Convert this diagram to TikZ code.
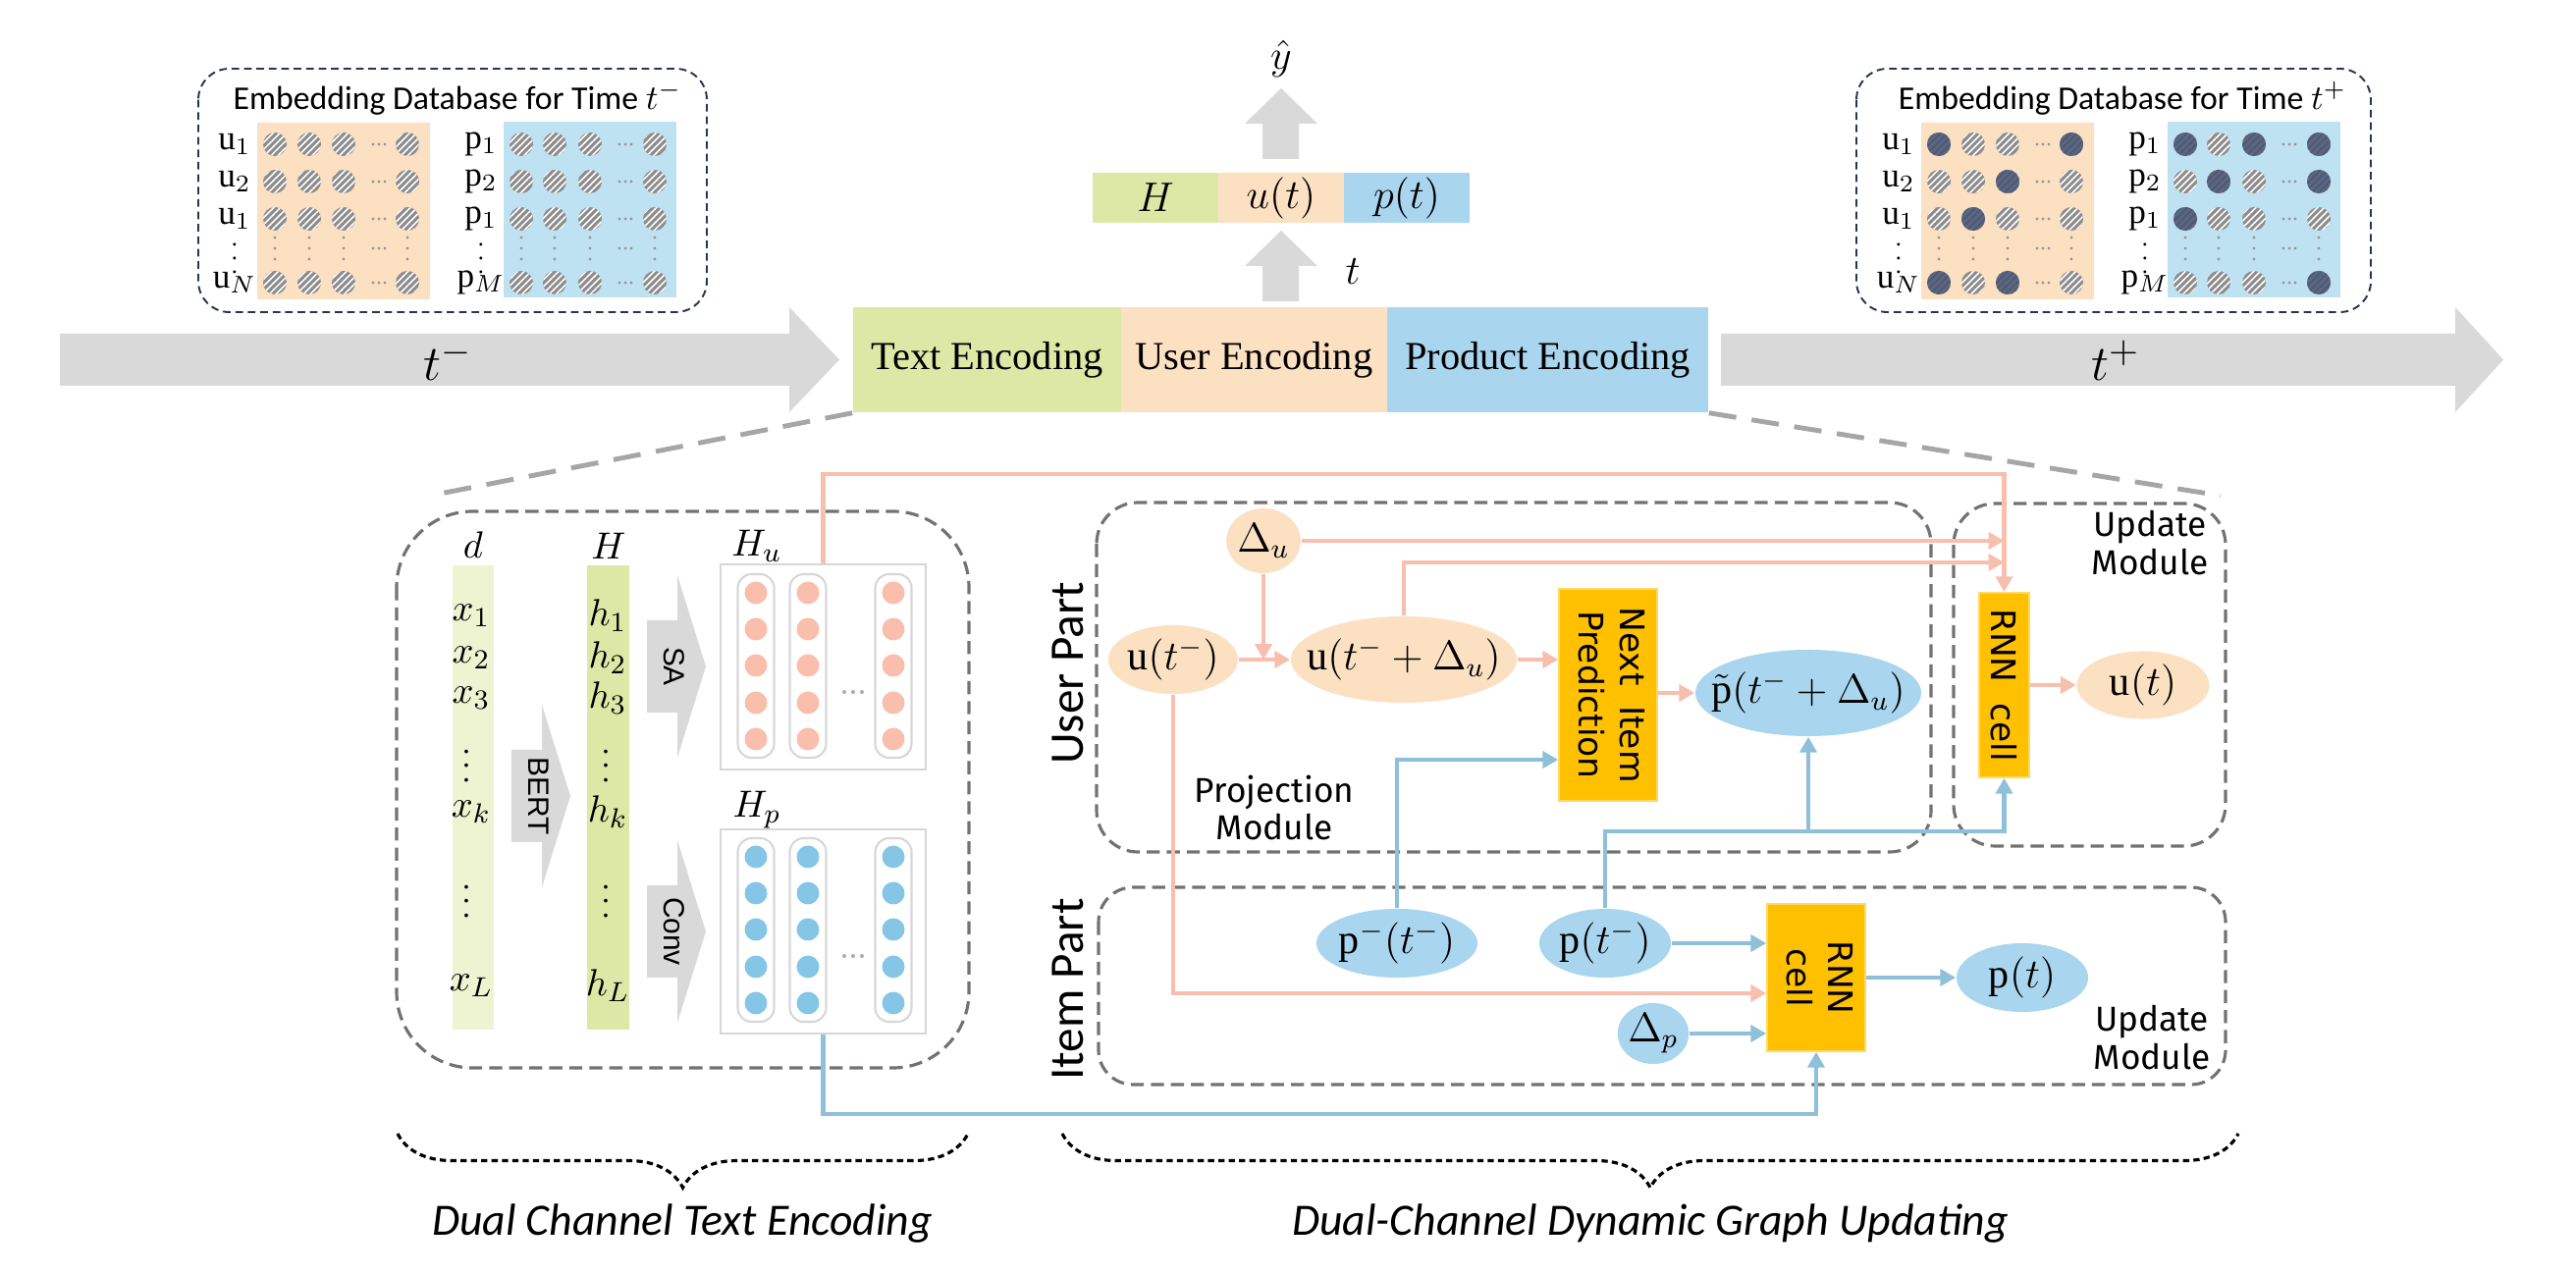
\documentclass[tikz,border=0pt]{standalone}
\usepackage{fontspec}
\usepackage{graphicx}
\setmainfont{Liberation Serif}
\setsansfont{Liberation Sans}
\newfontfamily\calibfont{Carlito}
\newfontfamily\cellfont{DejaVu Sans}
\newfontfamily\notefont{Fira Sans}
\usetikzlibrary{arrows.meta,patterns.meta,decorations.pathreplacing,shapes.geometric}

\definecolor{arrgray}{RGB}{217,217,217}
\definecolor{encgreen}{RGB}{221,232,166}
\definecolor{xgreen}{RGB}{238,243,210}
\definecolor{encorange}{RGB}{252,224,194}
\definecolor{encblue}{RGB}{169,214,238}
\definecolor{dbblue}{RGB}{191,226,243}
\definecolor{cellyellow}{RGB}{255,192,0}
\definecolor{linkpink}{RGB}{248,190,174}
\definecolor{linkblue}{RGB}{143,192,218}
\definecolor{dotpink}{RGB}{249,190,172}
\definecolor{dotblue}{RGB}{133,198,230}
\definecolor{boxgray}{RGB}{118,113,113}
\definecolor{zoomgray}{RGB}{166,166,166}
\definecolor{dbframecol}{RGB}{40,52,80}
\definecolor{hatchgray}{RGB}{140,140,140}
\definecolor{hatchdark}{RGB}{96,102,114}
\definecolor{hatchblue}{RGB}{66,88,140}
\definecolor{framegray}{RGB}{215,215,215}
\definecolor{dotgray}{RGB}{150,150,150}

\tikzset{
  encbox/.style={rectangle, inner sep=0pt, font=\fontsize{11.5}{13}\selectfont},
  barbox/.style={rectangle, inner sep=0pt, minimum width=1.28cm, minimum height=0.51cm, font=\fontsize{12}{14}\selectfont},
  ellu/.style={ellipse, fill=encorange, inner sep=0pt, font=\fontsize{12}{14}\selectfont},
  ellp/.style={ellipse, fill=encblue, inner sep=0pt, font=\fontsize{12}{14}\selectfont},
  cellbox/.style={rectangle, fill=cellyellow, draw=cellyellow!60!white, inner sep=0pt, font=\cellfont\fontsize{9.8}{12}\selectfont},
  dashbox/.style={draw=boxgray, line width=0.9pt, dash pattern=on 3.8pt off 2pt},
  dbframe/.style={draw=dbframecol, line width=0.55pt, dash pattern=on 2.2pt off 1.4pt, rounded corners=9pt},
  zoomline/.style={draw=zoomgray, line width=1.4pt, dash pattern=on 8pt off 4.5pt},
  pinkline/.style={draw=linkpink, line width=1.4pt},
  blueline/.style={draw=linkblue, line width=1.4pt},
  pinkarrow/.style={pinkline, -{Triangle[length=4.5pt,width=4.8pt]}},
  bluearrow/.style={blueline, -{Triangle[length=4.5pt,width=4.8pt]}},
  hatchl/.style={fill=hatchgray, postaction={pattern={Lines[angle=45,distance=1.4pt,line width=0.45pt]}, pattern color=white}},
  hatchd/.style={fill=hatchdark, postaction={pattern={Lines[angle=45,distance=1.4pt,line width=0.45pt]}, pattern color=hatchblue}},
  dblab/.style={inner sep=0pt, font=\fontsize{10}{12}\selectfont},
  collab/.style={inner sep=0pt, font=\fontsize{11}{13}\selectfont},
  modlab/.style={inner sep=0pt, align=center, font=\notefont\fontsize{10}{11}\selectfont},
  partlab/.style={inner sep=0pt, rotate=90, font=\calibfont\fontsize{14}{16}\selectfont},
  bracestyle/.style={draw=black, line width=0.9pt, dash pattern=on 1.8pt off 1.2pt, decorate, decoration={brace, mirror, amplitude=0.55cm}},
  bracelab/.style={inner sep=0pt, font=\calibfont\itshape\fontsize{13}{15}\selectfont}
}

\newcommand{\dbgrid}[1]{%
  \fill[encorange] (#1+60,125) rectangle (#1+236,305);
  \fill[dbblue] (#1+311,124) rectangle (#1+487,303);
  \foreach \cx in {78,113,148,213,329,363,399,465}
    \foreach \cy in {147,185,223,288}
      \path[hatchl] (#1+\cx,\cy) circle[radius=12];
  \foreach \cx in {78,113,148,213,329,363,399,465}
    \foreach \cy in {242,253,264}
      \fill[dotgray] (#1+\cx,\cy) circle[radius=1.7];
  \foreach \cx in {184,435}
    \foreach \cy in {147,185,223,253,288}
      \foreach \dx in {-6,0,6}
        \fill[dotgray] (#1+\cx+\dx,\cy) circle[radius=1.7];
  \foreach \cy/\sub in {147/1,185/2,223/1,288/N}
    \node[dblab] at (#1+37,\cy) {$\mathrm{u}_{\sub}$};
  \foreach \cy/\sub in {147/1,185/2,223/1,288/M}
    \node[dblab] at (#1+288,\cy) {$\mathrm{p}_{\sub}$};
  \node[dblab, font=\fontsize{7}{8}\selectfont] at (#1+37,253) {$\vdots$};
  \node[dblab, font=\fontsize{7}{8}\selectfont] at (#1+288,253) {$\vdots$};
}

\newcommand{\rarr}[3]{%
  \fill[arrgray] (#1,#2-47) -- (#1+31,#2-47) -- (#1+31,#2-93) -- (#1+60,#2)
    -- (#1+31,#2+93) -- (#1+31,#2+47) -- (#1,#2+47) -- cycle;
  \node[inner sep=0pt, font=\sffamily\fontsize{8.5}{10}\selectfont] at (#1+28,#2) {\rotatebox{-90}{#3}};
}

\begin{document}
\begin{tikzpicture}[x=0.01cm,y=-0.01cm]
\useasboundingbox (0,0) rectangle (2624,1298);

\fill[arrgray] (61,340) -- (804,340) -- (804,313) -- (855,366.5) -- (804,420) -- (804,393) -- (61,393) -- cycle;
\fill[arrgray] (1753,340) -- (2501,340) -- (2501,313) -- (2550,366.5) -- (2501,420) -- (2501,393) -- (1753,393) -- cycle;
\node[font=\fontsize{15}{17}\selectfont] (tminus) at (456,367) {$t^-$};
\node[font=\fontsize{15}{17}\selectfont] (tplus) at (2155,367) {$t^+$};

\node[encbox, fill=encgreen, minimum width=2.73cm, minimum height=1.07cm] (tenc) at (1005.5,366.5) {Text Encoding};
\node[encbox, fill=encorange, minimum width=2.71cm, minimum height=1.07cm] (uenc) at (1277.5,366.5) {User Encoding};
\node[encbox, fill=encblue, minimum width=3.27cm, minimum height=1.07cm] (penc) at (1576.5,366.5) {Product Encoding};

\foreach \yy in {162,307}
  \fill[arrgray] (1286,\yy) -- ++(0,-36) -- ++(-18,0) -- ++(37,-36) -- ++(37,36) -- ++(-19,0) -- ++(0,36) -- cycle;
\node[barbox, fill=encgreen] (hbar) at (1177,201.5) {$H$};
\node[barbox, fill=encorange] (ubar) at (1305,201.5) {$u(t)$};
\node[barbox, fill=encblue] (pbar) at (1433,201.5) {$p(t)$};
\node[font=\fontsize{12}{14}\selectfont] (yhat) at (1305,60) {$\hat{y}$};
\node[font=\fontsize{13}{15}\selectfont] (tnow) at (1378,277) {$t$};

% embedding databases
\draw[dbframe] (202,70) rectangle (720,318);
\node[inner sep=0pt, font=\calibfont\fontsize{9.6}{11}\selectfont] (dbold) at (466,100) {Embedding Database for Time $t^-$};
\dbgrid{202}
\draw[dbframe] (1891,70) rectangle (2415,318);
\node[inner sep=0pt, font=\calibfont\fontsize{9.6}{11}\selectfont] (dbnew) at (2162,100) {Embedding Database for Time $t^+$};
\dbgrid{1897}
\foreach \cx/\cy in {78/147,213/147,148/185,113/223,78/288,148/288,329/147,399/147,465/147,363/185,465/185,329/223,465/288}
  \path[hatchd] (1897+\cx,\cy) circle[radius=12];

\draw[zoomline] (tenc.south west) -- (448,503);
\draw[zoomline] (penc.south east) -- (2262,505);

% dual channel text encoding
\draw[dashbox, rounded corners=22pt] (404,521) rectangle (987,1088);
\node[fill=xgreen, minimum width=0.42cm, minimum height=4.73cm, inner sep=0pt] (xcol) at (482,812.5) {};
\node[fill=encgreen, minimum width=0.42cm, minimum height=4.73cm, inner sep=0pt] (hcol) at (619.5,812.5) {};
\node[collab] at (482,555) {$d$};
\node[collab] at (620,556) {$H$};
\foreach \yy/\sub in {627/1,670/2,711/3,827/k,1004/L} {
  \node[collab] at (480,\yy) {$x_{\sub}$};
  \node[collab] at (619,\yy) {$h_{\sub}$};
}
\foreach \yy in {770,908} {
  \node[collab, font=\fontsize{9}{10}\selectfont] at (475,\yy) {$\vdots$};
  \node[collab, font=\fontsize{9}{10}\selectfont] at (617,\yy) {$\vdots$};
}
\rarr{521}{811}{BERT}
\rarr{659}{679}{SA}
\rarr{659}{949}{Conv}

\node[draw=framegray, line width=0.6pt, minimum width=2.09cm, minimum height=2.09cm, inner sep=0pt] (Hu) at (838.5,679.5) {};
\node[draw=framegray, line width=0.6pt, minimum width=2.09cm, minimum height=2.08cm, inner sep=0pt] (Hp) at (838.5,949) {};
\node[collab] at (771,556) {$H_u$};
\node[collab] at (771,825) {$H_p$};
\foreach \off/\dotcol in {0/dotpink,269/dotblue} {
  \foreach \cx in {770,823,910} {
    \draw[framegray, line width=0.6pt, rounded corners=4pt] (\cx-18.5,585+\off) rectangle (\cx+18.5,772+\off);
    \foreach \cy in {604,641,678,716,753}
      \fill[\dotcol] (\cx,\cy+\off) circle[radius=11.5];
  }
  \foreach \dx in {-9,0,9}
    \fill[dotgray!80] (869+\dx,705+\off) circle[radius=2];
}

% dual-channel dynamic graph updating
\draw[dashbox, rounded corners=12pt] (1117,512) rectangle (1967,868);
\draw[dashbox, rounded corners=12pt] (1990,513) rectangle (2267,862);
\draw[dashbox, rounded corners=10pt] (1119,904) rectangle (2267,1105);
\node[partlab] (upart) at (1088,686) {User Part};
\node[partlab] (ipart) at (1088,1008) {Item Part};
\node[modlab] (projm) at (1298,823) {Projection\\Module};
\node[modlab] (updu) at (2190,553) {Update\\Module};
\node[modlab] (updp) at (2192,1057) {Update\\Module};

\node[ellu, minimum width=0.6cm, minimum height=0.66cm] (du) at (1287,551) {$\Delta_u$};
\node[ellu, minimum width=1.32cm, minimum height=0.7cm] (ut) at (1195,672) {$\mathrm{u}(t^-)$};
\node[ellu, minimum width=2.3cm, minimum height=0.88cm] (upd) at (1430,672) {\makebox[0pt]{$\mathrm{u}(t^-+\Delta_u)$}};
\node[cellbox, minimum width=1cm, minimum height=2.16cm] (nip) at (1638,708) {\rotatebox{-90}{\begin{tabular}{@{}c@{}}Next\hspace{0.6em}Item\\Prediction\end{tabular}}};
\node[ellp, minimum width=2.3cm, minimum height=0.88cm] (pt) at (1842,706) {\makebox[0pt]{$\tilde{\mathrm{p}}(t^-+\Delta_u)$}};
\node[cellbox, minimum width=0.51cm, minimum height=1.88cm] (rnnu) at (2041.5,698) {\rotatebox{-90}{RNN\hspace{0.6em}cell}};
\node[ellu, minimum width=1.35cm, minimum height=0.69cm] (uT) at (2183,698) {$\mathrm{u}(t)$};

\node[ellp, minimum width=1.64cm, minimum height=0.7cm] (pm) at (1423,961) {\makebox[0pt]{$\mathrm{p}^-(t^-)$}};
\node[ellp, minimum width=1.34cm, minimum height=0.7cm] (pp) at (1635,961) {\makebox[0pt]{$\mathrm{p}(t^-)$}};
\node[cellbox, minimum width=1cm, minimum height=1.5cm] (rnnp) at (1850,996) {\rotatebox{-90}{\begin{tabular}{@{}c@{}}RNN\\cell\end{tabular}}};
\node[ellp, minimum width=0.64cm, minimum height=0.62cm] (dp) at (1684,1053) {$\Delta_p$};
\node[ellp, minimum width=1.34cm, minimum height=0.7cm] (pT) at (2060,996) {$\mathrm{p}(t)$};

\coordinate (pinktop) at (2041.5,483);
\coordinate (ujoin) at (2041.5,573);
\coordinate (bj) at (1842,847);
\coordinate (bluebot) at (1850,1135);

\draw[pinkarrow] (Hu.north) |- (pinktop) -- (rnnu.north);
\draw[pinkarrow] (du.east) -- (du.east -| rnnu.north);
\draw[pinkarrow] (upd.north) |- (ujoin);
\draw[pinkarrow] (du.south) -- (du.south |- ut.east);
\draw[pinkarrow] (ut.east) -- (upd.west);
\draw[pinkarrow] (upd.east) -- (nip.west |- upd.east);
\draw[pinkarrow] (nip.east |- pt.west) -- (pt.west);
\draw[pinkarrow] (ut.south) |- ([yshift=-0.16cm]rnnp.west);
\draw[pinkarrow] (rnnu.east) -- (uT.west);

\draw[bluearrow] (pm.north) |- ([yshift=-0.66cm]nip.west);
\draw[blueline] (pp.north) |- (bj);
\draw[bluearrow] (bj) -| (rnnu.south);
\draw[bluearrow] (bj) -- (pt.south);
\draw[bluearrow] (pp.east) -- (rnnp.west |- pp.east);
\draw[bluearrow] (dp.east) -- (rnnp.west |- dp.east);
\draw[bluearrow] (rnnp.east) -- (pT.west);
\draw[bluearrow] (Hp.south) |- (bluebot) -- (rnnp.south);

\draw[bracestyle] (405,1155) -- (986,1155);
\draw[bracestyle] (1082,1155) -- (2280,1155);
\node[bracelab] (dcte) at (695,1247) {Dual Channel Text Encoding};
\node[bracelab] (dcdgu) at (1681,1247) {Dual-Channel Dynamic Graph Updating};
\end{tikzpicture}
\end{document}
